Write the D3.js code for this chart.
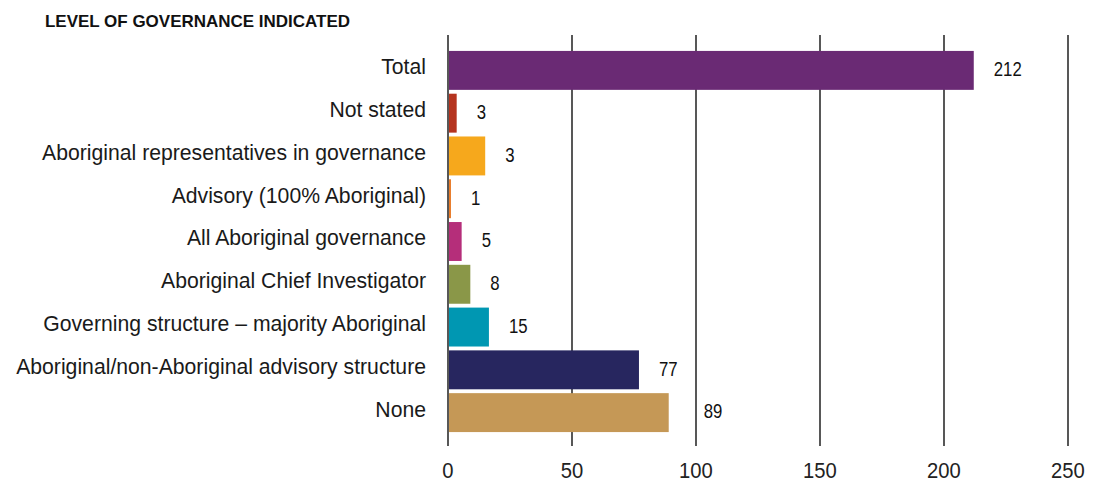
<!DOCTYPE html>
<html>
<head>
<meta charset="utf-8">
<script src="https://cdn.jsdelivr.net/npm/d3@7"></script>
<style>
  body { margin: 0; background: #fff; }
</style>
</head>
<body>
<div id="chart"></div>
<script>
const width = 1097;
const height = 483;

// Data (bar lengths, and the numbers printed beside them)
const categories = [
  "Total",
  "Not stated",
  "Aboriginal representatives in governance",
  "Advisory (100% Aboriginal)",
  "All Aboriginal governance",
  "Aboriginal Chief Investigator",
  "Governing structure \u2013 majority Aboriginal",
  "Aboriginal/non-Aboriginal advisory structure",
  "None"
];
const barValues = [212, 3.5, 15, 1.2, 5.5, 9, 16.5, 77, 89];
const labelValues = ["212", "3", "3", "1", "5", "8", "15", "77", "89"];
const colors = ["#6a2a74", "#b5341f", "#f6a81c", "#e87c2a", "#b52e7a", "#8a9748", "#0097b2", "#27265f", "#c59856"];
const xTicks = [0, 50, 100, 150, 200, 250];

const svg = d3.select("#chart")
  .append("svg")
  .attr("width", width)
  .attr("height", height);

const x = d3.scaleLinear()
  .domain([0, 250])
  .range([448, 1068]);

const y = d3.scaleBand()
  .domain(categories)
  .range([49, 434])
  .paddingInner(0.09)
  .paddingOuter(0.045);

// Title
svg.append("text")
  .attr("x", 45)
  .attr("y", 27)
  .attr("font-family", "Liberation Sans, Arial, sans-serif")
  .attr("font-weight", "bold")
  .attr("font-size", "17px")
  .attr("fill", "#111")
  .attr("textLength", 305)
  .attr("lengthAdjust", "spacingAndGlyphs")
  .text("LEVEL OF GOVERNANCE INDICATED");

// Grid lines
svg.append("g")
  .selectAll("line")
  .data(xTicks)
  .join("line")
  .attr("x1", d => x(d))
  .attr("x2", d => x(d))
  .attr("y1", 35)
  .attr("y2", 446)
  .attr("stroke", "#111")
  .attr("stroke-width", 1.4);

// Bars
svg.append("g")
  .selectAll("rect")
  .data(categories)
  .join("rect")
  .attr("x", x(0) + 1)
  .attr("y", d => y(d))
  .attr("width", (d, i) => x(barValues[i]) - x(0) - 1)
  .attr("height", y.bandwidth())
  .attr("fill", (d, i) => colors[i]);

// Value labels (condensed look by squeezing horizontally)
svg.append("g")
  .selectAll("text")
  .data(categories)
  .join("text")
  .attr("transform", (d, i) => {
    // the "89" sits further out, clear of the 100 grid line
    const gap = labelValues[i] === "89" ? 35 : 20;
    return `translate(${x(barValues[i]) + gap},${y(d) + y.bandwidth() / 2 - 1}) scale(0.86,1)`;
  })
  .attr("dy", ".35em")
  .attr("font-family", "Liberation Sans, Arial, sans-serif")
  .attr("font-size", "19.5px")
  .attr("fill", "#111")
  .text((d, i) => labelValues[i]);

// Category labels
svg.append("g")
  .selectAll("text")
  .data(categories)
  .join("text")
  .attr("x", 426)
  .attr("y", d => y(d) + y.bandwidth() / 2 - 3.5)
  .attr("dy", ".35em")
  .attr("text-anchor", "end")
  .attr("font-family", "Liberation Sans, Arial, sans-serif")
  .attr("font-size", "21.2px")
  .attr("fill", "#1a1a1a")
  .text(d => d);

// X tick labels
svg.append("g")
  .selectAll("text")
  .data(xTicks)
  .join("text")
  .attr("transform", d => `translate(${x(d)},478) scale(0.92,1)`)
  .attr("text-anchor", "middle")
  .attr("font-family", "Liberation Sans, Arial, sans-serif")
  .attr("font-size", "22px")
  .attr("fill", "#222")
  .text(d => d);
</script>
</body>
</html>
